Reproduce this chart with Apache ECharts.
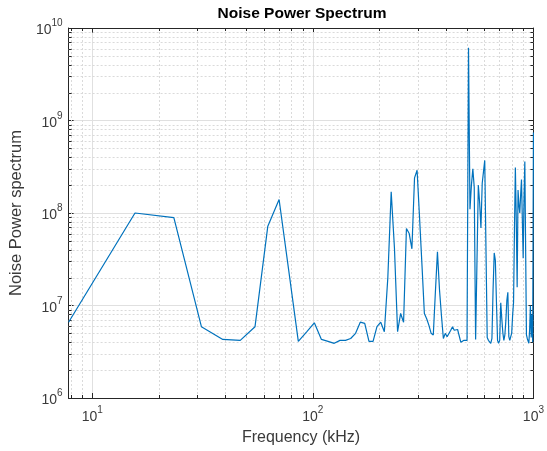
<!DOCTYPE html>
<html><head><meta charset="utf-8">
<script src="https://cdn.jsdelivr.net/npm/echarts@6/dist/echarts.min.js"></script>
<style>html,body{margin:0;padding:0;background:#fff}#c{width:547px;height:451px}</style>
</head><body><div id="c"></div>
<script>
const frequencyKHz = [
  7.8125, 15.625, 23.4375, 31.25, 39.0625, 46.875, 54.6875, 62.5, 70.3125, 78.125,
  85.9375, 93.75, 101.5625, 109.375, 117.1875, 125, 132.8125, 140.625, 148.4375, 156.25,
  164.0625, 171.875, 179.6875, 187.5, 195.3125, 203.125, 210.9375, 218.75, 226.5625, 234.375,
  242.1875, 250, 257.8125, 265.625, 273.4375, 281.25, 289.0625, 296.875, 304.6875, 312.5,
  320.3125, 328.125, 335.9375, 343.75, 351.5625, 359.375, 367.1875, 375, 382.8125, 390.625,
  398.4375, 406.25, 414.0625, 421.875, 429.6875, 437.5, 445.3125, 453.125, 460.9375, 468.75,
  476.5625, 484.375, 492.1875, 500, 507.8125, 515.625, 523.4375, 531.25, 539.0625, 546.875,
  554.6875, 562.5, 570.3125, 578.125, 585.9375, 593.75, 601.5625, 609.375, 617.1875, 625,
  632.8125, 640.625, 648.4375, 656.25, 664.0625, 671.875, 679.6875, 687.5, 695.3125, 703.125,
  710.9375, 718.75, 726.5625, 734.375, 742.1875, 750, 757.8125, 765.625, 773.4375, 781.25,
  789.0625, 796.875, 804.6875, 812.5, 820.3125, 828.125, 835.9375, 843.75, 851.5625, 859.375,
  867.1875, 875, 882.8125, 890.625, 898.4375, 906.25, 914.0625, 921.875, 929.6875, 937.5,
  945.3125, 953.125, 960.9375, 968.75, 976.5625, 984.375, 992.1875, 1000
];
const noisePower = [
  6.6e6, 1.0e8, 8.9e7, 5.9e6, 4.3e6, 4.2e6, 5.9e6, 7.2e7, 1.4e8, 2.2e7,
  4.1e6, 5.2e6, 6.5e6, 4.3e6, 4.1e6, 3.9e6, 4.2e6, 4.2e6, 4.4e6, 5.0e6,
  6.6e6, 6.4e6, 4.1e6, 4.1e6, 5.9e6, 6.6e6, 5.2e6, 2.0e7, 1.7e8, 4.2e7,
  5.2e6, 8.2e6, 6.6e6, 6.8e7, 6.0e7, 4.1e7, 2.4e8, 2.9e8, 8.8e7, 2.7e7,
  8.2e6, 7.2e6, 6.1e6, 5.0e6, 4.8e6, 1.4e7, 3.8e7, 1.5e7, 7.8e6, 4.4e6,
  5.0e6, 4.6e6, 4.6e6, 5.4e6, 5.9e6, 5.4e6, 5.4e6, 5.5e6, 5.6e6, 4.0e6,
  3.9e6, 4.2e6, 4.1e6, 4.2e6, 6.1e9, 1.1e8, 2.0e8, 3.0e8, 1.9e8, 4.3e6,
  3.0e7, 2.0e8, 1.3e8, 6.9e7, 2.1e8, 2.8e8, 3.7e8, 4.0e7, 4.5e6, 4.2e6,
  4.2e6, 3.9e6, 4.4e6, 1.5e7, 3.7e7, 3.1e7, 1.1e7, 4.2e6, 3.9e6, 4.2e6,
  1.07e7, 7.2e6, 5.1e6, 4.2e6, 4.8e6, 6.9e6, 1.14e7, 1.39e7, 4.6e6, 4.2e6,
  4.6e6, 5.0e6, 7.8e6, 1.08e7, 6.5e7, 3.1e8, 8.4e7, 1.58e7, 1.77e8, 1.22e8,
  1.0e8, 1.57e8, 2.3e8, 8.4e7, 3.25e7, 1.4e8, 3.6e8, 4.0e7, 4.8e6, 4.4e6,
  4.2e6, 3.9e6, 5.4e6, 1.0e7, 4.5e6, 8.0e6, 4.0e6, 7.4e8
];
const xRange = [7.8125, 1000];
const yRange = [1e6, 1e10];
const xTickValues = [10, 100, 1000];
const xTickExponents = ['1', '2', '3'];
const yTickValues = [1e6, 1e7, 1e8, 1e9, 1e10];
const yTickExponents = ['6', '7', '8', '9', '10'];
const xMinorTicks = [8, 9, 20, 30, 40, 50, 60, 70, 80, 90, 200, 300, 400, 500, 600, 700, 800, 900];
const yMinorTicks = [2e6, 3e6, 4e6, 5e6, 6e6, 7e6, 8e6, 9e6, 2e7, 3e7, 4e7, 5e7, 6e7, 7e7, 8e7, 9e7,
  2e8, 3e8, 4e8, 5e8, 6e8, 7e8, 8e8, 9e8, 2e9, 3e9, 4e9, 5e9, 6e9, 7e9, 8e9, 9e9];

const FONT = '"Liberation Sans", Arial, Helvetica, sans-serif';
const AX = '#262626';
const LABEL = '#3a3a3a';
const MAJOR_GRID = '#e0e0e0';
const MINOR_GRID = '#dadada';

function makeFormatter(vals, exps) {
  return function (v) {
    for (let i = 0; i < vals.length; i++) {
      if (Math.abs(v / vals[i] - 1) < 1e-6) return '{b|10}{e|' + exps[i] + '}';
    }
    return '';
  };
}
const rich = {
  b: { fontSize: 14, height: 14, lineHeight: 19, verticalAlign: 'bottom', color: LABEL, fontFamily: FONT },
  e: { fontSize: 10, height: 10, lineHeight: 10, verticalAlign: 'top', color: LABEL, fontFamily: FONT }
};

const chart = echarts.init(document.getElementById('c'), null, { renderer: 'canvas' });
const lineData = frequencyKHz.map((f, i) => [f, noisePower[i]]);

function logAxisBase(extra) {
  return Object.assign({
    type: 'log', logBase: 10,
    axisLine: { show: true, onZero: false, lineStyle: { color: AX, width: 1 } },
    axisTick: { show: true, inside: true, length: 5, lineStyle: { color: AX, width: 1 } },
    minorTick: { show: false },
    splitLine: { show: false }
  }, extra);
}

chart.setOption({
  animation: false,
  backgroundColor: '#fff',
  title: {
    text: 'Noise Power Spectrum', left: 302, top: 6, textAlign: 'center', padding: 0,
    textStyle: { fontFamily: FONT, fontSize: 15.5, fontWeight: 'bold', color: '#000' }
  },
  grid: { left: 67, right: 10, top: 28, bottom: 53, containLabel: false },
  xAxis: [
    logAxisBase({
      min: xRange[0], max: xRange[1], position: 'bottom',
      name: 'Frequency (kHz)', nameLocation: 'middle', nameGap: 32,
      nameTextStyle: { fontFamily: FONT, fontSize: 16, color: LABEL },
      axisLabel: { show: true, margin: 7, formatter: makeFormatter(xTickValues, xTickExponents), rich: rich, showMinLabel: true, showMaxLabel: true, hideOverlap: false },
      splitLine: { show: true, lineStyle: { color: MAJOR_GRID, width: 1 } }
    }),
    logAxisBase({ min: xRange[0], max: xRange[1], position: 'top', axisLabel: { show: false } })
  ],
  yAxis: [
    logAxisBase({
      min: yRange[0], max: yRange[1], position: 'left',
      name: 'Noise Power spectrum', nameLocation: 'middle', nameGap: 37,
      nameTextStyle: { fontFamily: FONT, fontSize: 16.5, color: LABEL },
      axisLabel: { show: true, margin: 6, formatter: makeFormatter(yTickValues, yTickExponents), rich: rich, showMinLabel: true, showMaxLabel: true, hideOverlap: false },
      splitLine: { show: true, lineStyle: { color: MAJOR_GRID, width: 1 } }
    }),
    logAxisBase({ min: yRange[0], max: yRange[1], position: 'right', axisLabel: { show: false } })
  ],
  series: [
    {
      type: 'custom', xAxisIndex: 0, yAxisIndex: 0, silent: true, z: 1,
      data: xMinorTicks.map(v => [v, yRange[0]]),
      renderItem: function (params, api) {
        const x = api.value(0);
        const p0 = api.coord([x, yRange[0]]);
        const p1 = api.coord([x, yRange[1]]);
        const px = Math.round(p0[0]) + 0.5;
        return {
          type: 'group', children: [
            { type: 'line', shape: { x1: px, y1: p0[1], x2: px, y2: p1[1] }, style: { stroke: MINOR_GRID, lineWidth: 1, lineDash: [2, 2] } },
            { type: 'line', shape: { x1: px, y1: p0[1], x2: px, y2: p0[1] - 3 }, style: { stroke: AX, lineWidth: 1 } },
            { type: 'line', shape: { x1: px, y1: p1[1], x2: px, y2: p1[1] + 3 }, style: { stroke: AX, lineWidth: 1 } }
          ]
        };
      }
    },
    {
      type: 'custom', xAxisIndex: 0, yAxisIndex: 0, silent: true, z: 1,
      data: yMinorTicks.map(v => [xRange[0], v]),
      renderItem: function (params, api) {
        const y = api.value(1);
        const p0 = api.coord([xRange[0], y]);
        const p1 = api.coord([xRange[1], y]);
        const py = Math.round(p0[1]) + 0.5;
        return {
          type: 'group', children: [
            { type: 'line', shape: { x1: p0[0], y1: py, x2: p1[0], y2: py }, style: { stroke: MINOR_GRID, lineWidth: 1, lineDash: [2, 2] } },
            { type: 'line', shape: { x1: p0[0], y1: py, x2: p0[0] + 3, y2: py }, style: { stroke: AX, lineWidth: 1 } },
            { type: 'line', shape: { x1: p1[0], y1: py, x2: p1[0] - 3, y2: py }, style: { stroke: AX, lineWidth: 1 } }
          ]
        };
      }
    },
    {
      type: 'line', xAxisIndex: 0, yAxisIndex: 0, data: lineData, z: 5,
      showSymbol: false, symbol: 'none', clip: true,
      lineStyle: { color: '#0072BD', width: 1.2 },
      itemStyle: { color: '#0072BD' }
    }
  ]
});
</script>
</body></html>
